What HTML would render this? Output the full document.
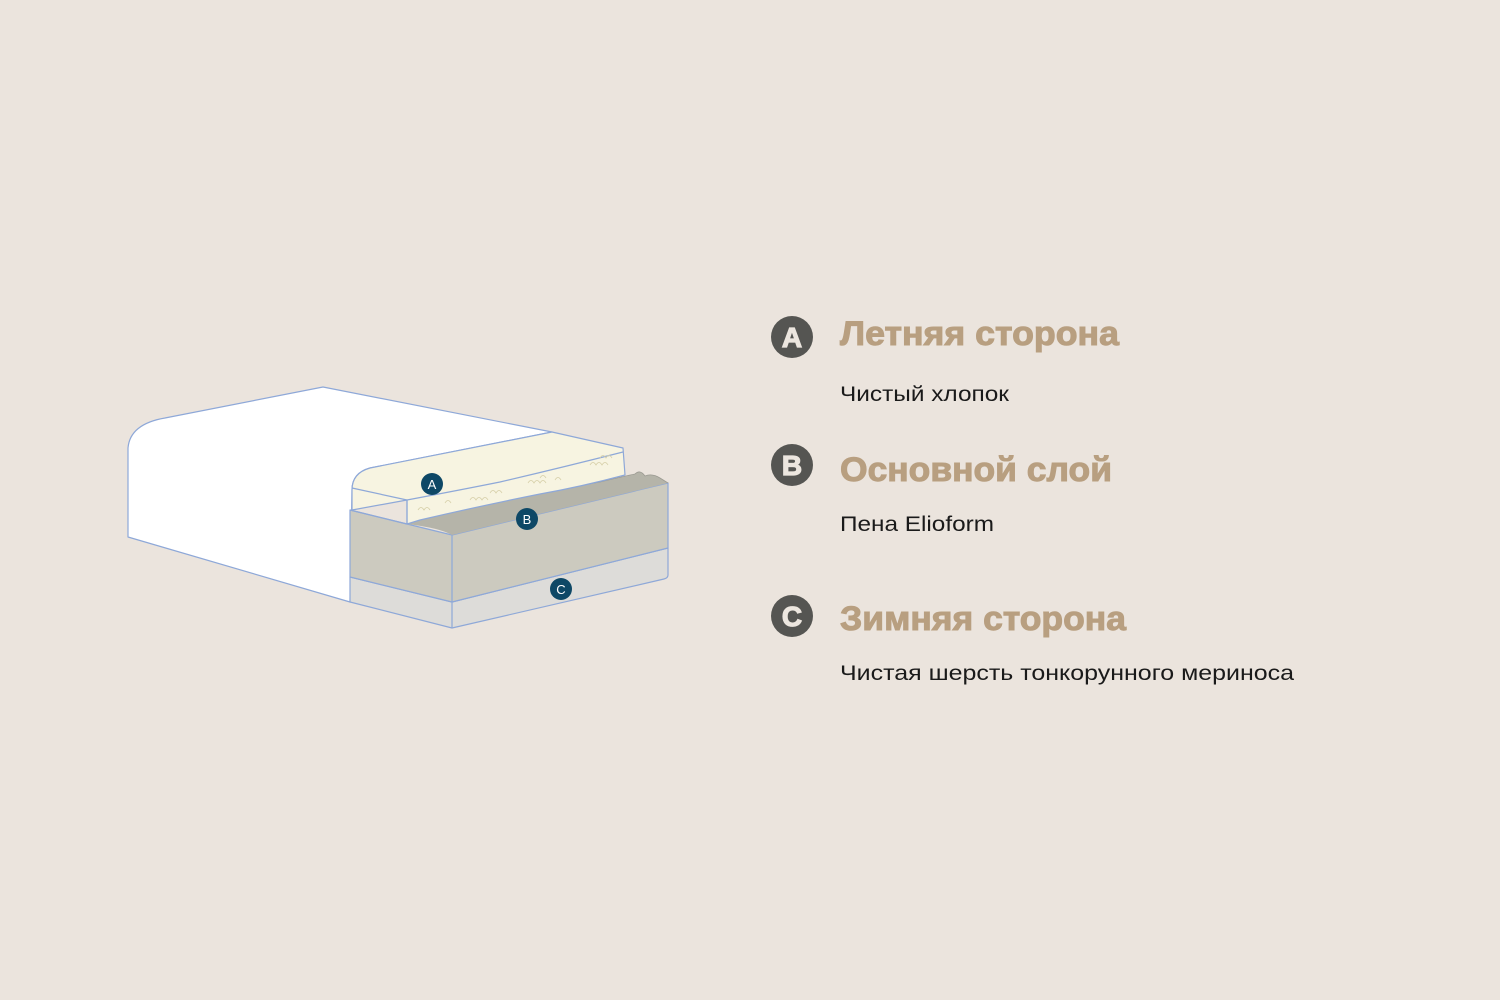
<!DOCTYPE html>
<html><head><meta charset="utf-8"><style>
html,body{margin:0;padding:0;background:#ebe4dd;}
svg{display:block}
</style></head><body>
<svg width="1500" height="1000" viewBox="0 0 1500 1000" xmlns="http://www.w3.org/2000/svg">
<rect width="1500" height="1000" fill="#ebe4dd"/>
<g stroke="#8ea8d8" stroke-width="1.2" stroke-linejoin="round">
  <path d="M128,537 L128,448 Q130,424 165,418 L323,387 L552,432 L370,468 Q352,473 352,490 L350,602 Z" fill="#ffffff"/>
  <path d="M350,577 L452,602 L668,548 L668,575 Q668,578 664,579 L452,628 L350,602 Z" fill="#dddcd9"/>
  <line x1="452" y1="602" x2="452" y2="628"/>
  <path d="M350,510 L407,524 L452,535 L668,483 L668,548 L452,602 L350,577 Z" fill="#cccabf"/>
  <line x1="452" y1="535" x2="452" y2="602"/>
  <path d="M407,524 Q430,514 455,512 Q480,506 520,497 Q560,489 600,482 Q625,476 635,474 Q640,469 645,476 Q652,473 660,478 L668,483 L452,535 Q440,528 407,524 Z" fill="#b5b4a9" stroke="none"/>
  <path d="M407,524 Q430,514 455,512 Q480,506 520,497 Q560,489 600,482 Q625,476 635,474 Q640,469 645,476 Q652,473 660,478 L668,483" fill="none" stroke="#9b9a92" stroke-width="0.8"/>
  <path d="M370,468 L552,432 L623,448 L625,475 Q580,487 540,494 Q480,506 420,520 L407,524 L407,500 L352,510 L352,490 Q352,473 370,468 Z" fill="#f7f4e1"/>
  <path d="M352,488 L407,500 Q460,490 500,482 Q560,468 623,452" fill="none"/>
  <line x1="407" y1="500" x2="407" y2="524"/>
  <line x1="350" y1="510" x2="407" y2="524"/>
</g>
<g fill="none" stroke="#d6cfa8" stroke-width="0.8">
  <path d="M418,510 q3,-5 6,0 q3,-5 6,0"/><path d="M445,503 q3,-5 6,0"/><path d="M470,500 q3,-5 6,0 q3,-5 6,0 q3,-5 6,0"/>
  <path d="M490,493 q3,-5 6,0 q3,-5 6,0"/><path d="M528,483 q3,-5 6,0 q3,-5 6,0 q3,-5 6,0"/><path d="M555,480 q3,-5 6,0"/>
  <path d="M590,465 q3,-5 6,0 q3,-5 6,0 q3,-5 6,0"/><path d="M600,458 q3,-5 6,0 q3,-5 6,0"/><path d="M540,478 q3,-5 6,0"/>
</g>
<g font-family="Liberation Sans, sans-serif" font-size="13" fill="#fff" text-anchor="middle">
  <circle cx="432" cy="484" r="11" fill="#0e4866"/><text x="432" y="489">A</text>
  <circle cx="527" cy="519" r="11" fill="#0e4866"/><text x="527" y="524">B</text>
  <circle cx="561" cy="589" r="11" fill="#0e4866"/><text x="561" y="594">C</text>
</g>
<g font-family="Liberation Sans, sans-serif" font-weight="bold" font-size="28" fill="#ece6df" stroke="#ece6df" stroke-width="1.2" text-anchor="middle">
  <circle cx="792" cy="337" r="21" fill="#555552" stroke="none"/><text x="792" y="347">A</text>
  <circle cx="792" cy="465" r="21" fill="#555552" stroke="none"/><text x="792" y="475">B</text>
  <circle cx="792" cy="616" r="21" fill="#555552" stroke="none"/><text x="792" y="626">C</text>
</g>
<g font-family="Liberation Sans, sans-serif" font-weight="bold" font-size="34" fill="#b89f80" stroke="#b89f80" stroke-width="1">
  <text x="840" y="345" textLength="279" lengthAdjust="spacingAndGlyphs">Летняя сторона</text>
  <text x="840" y="481" textLength="272" lengthAdjust="spacingAndGlyphs">Основной слой</text>
  <text x="840" y="630" textLength="286" lengthAdjust="spacingAndGlyphs">Зимняя сторона</text>
</g>
<g font-family="Liberation Sans, sans-serif" font-size="21" fill="#1a1a1a">
  <text x="840" y="401" textLength="169" lengthAdjust="spacingAndGlyphs">Чистый хлопок</text>
  <text x="840" y="531" textLength="154" lengthAdjust="spacingAndGlyphs">Пена Elioform</text>
  <text x="840" y="680" textLength="454" lengthAdjust="spacingAndGlyphs">Чистая шерсть тонкорунного мериноса</text>
</g>
</svg>
</body></html>
